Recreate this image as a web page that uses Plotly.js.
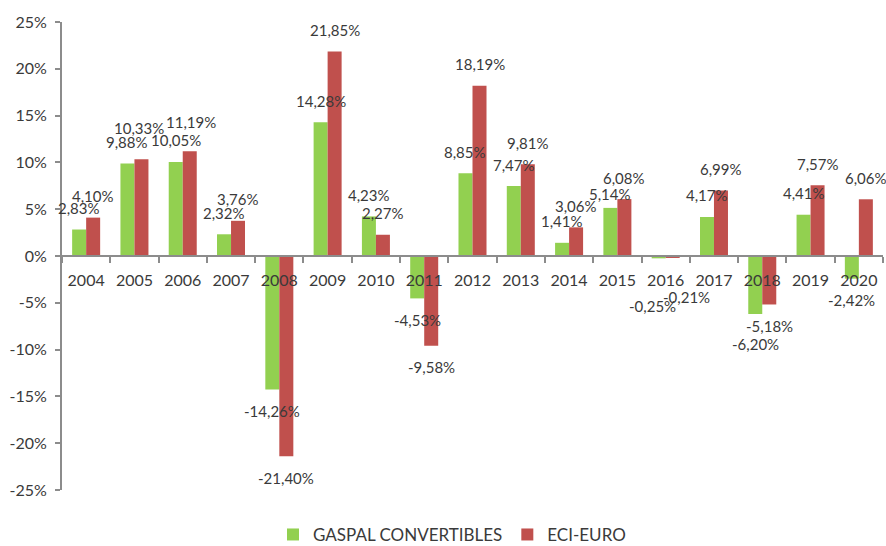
<!DOCTYPE html>
<html>
<head>
<meta charset="utf-8">
<script src="https://cdn.plot.ly/plotly-3.0.1.min.js"></script>
<style>
  html, body { margin: 0; padding: 0; background: #ffffff; }
  #chart { width: 886px; height: 546px; }
</style>
</head>
<body>
<div id="chart"></div>
<script>
// ---- Data (values in %) ----
const years = ['2004','2005','2006','2007','2008','2009','2010','2011','2012','2013','2014','2015','2016','2017','2018','2019','2020'];
const gaspal = [2.83, 9.88, 10.05, 2.32, -14.26, 14.28, 4.23, -4.53, 8.85, 7.47, 1.41, 5.14, -0.25, 4.17, -6.20, 4.41, -2.42];
const eciEuro = [4.10, 10.33, 11.19, 3.76, -21.40, 21.85, 2.27, -9.58, 18.19, 9.81, 3.06, 6.08, -0.21, 6.99, -5.18, 7.57, 6.06];
const seriesNames = ['GASPAL CONVERTIBLES', 'ECI-EURO'];
const yTicks = [-25, -20, -15, -10, -5, 0, 5, 10, 15, 20, 25];

// ---- Layout / style settings ----
const W = 886, H = 546;
const margin = {l: 62, r: 3, t: 22, b: 56, autoexpand: false};
const bargap = 0.42;
const green = '#92D050', red = '#C0504D';
const textColor = '#3a3a3a';
const axisColor = '#8c8c8c';
const fontFamily = 'Lato, "Open Sans", sans-serif';

// label nudges (pixels) reproducing the hand-placed labels of the original
const nudges = {
  'ECI-EURO|2005': {dx: -2, dy: 10},
  'ECI-EURO|2006': {dx: 1, dy: 8},
  'GASPAL CONVERTIBLES|2015': {dx: 0, dy: -8},
  'GASPAL CONVERTIBLES|2016': {dx: -6, dy: -26},
  'ECI-EURO|2016': {dx: 14, dy: -18},
  'GASPAL CONVERTIBLES|2018': {dx: 0, dy: -8}
};

const fmt = v => v.toFixed(2).replace('.', ',') + '%';

const traces = [
  {type: 'bar', name: seriesNames[0], x: years, y: gaspal, marker: {color: green}, hoverinfo: 'x+y'},
  {type: 'bar', name: seriesNames[1], x: years, y: eciEuro, marker: {color: red}, hoverinfo: 'x+y'}
];

// data labels as annotations, positioned from the values through the axes
// (on a category axis an annotation's x is the category's serial index)
const catW = (W - margin.l - margin.r) / years.length;
const barW = catW * (1 - bargap) / 2;
const annotations = [];
[[gaspal, seriesNames[0], -barW / 2], [eciEuro, seriesNames[1], barW / 2]].forEach(([vals, name, off]) => {
  vals.forEach((v, i) => {
    const n = nudges[name + '|' + years[i]] || {dx: 0, dy: 0};
    const base = v >= 0 ? 21.5 : -21.5;
    annotations.push({
      x: i, y: v, xref: 'x', yref: 'y',
      text: fmt(v), showarrow: false,
      xanchor: 'center', yanchor: 'middle',
      xshift: off + n.dx, yshift: base + n.dy,
      font: {family: fontFamily, size: 15, color: textColor}
    });
  });
});

const layout = {
  width: W, height: H,
  margin: margin,
  paper_bgcolor: '#ffffff',
  plot_bgcolor: '#ffffff',
  barmode: 'group',
  bargap: bargap,
  bargroupgap: 0,
  font: {family: fontFamily, size: 16, color: textColor},
  showlegend: true,
  legend: {
    orientation: 'h',
    x: 0.475, xanchor: 'center',
    y: -0.096, yanchor: 'middle',
    font: {family: fontFamily, size: 17, color: textColor},
    itemclick: false, itemdoubleclick: false
  },
  xaxis: {
    type: 'category',
    range: [-0.5, years.length - 0.5],
    anchor: 'free', position: 0.5,
    showline: true, linecolor: axisColor, linewidth: 2,
    ticks: 'outside', tickson: 'boundaries', ticklen: 6, tickcolor: axisColor, tickwidth: 2,
    ticklabelstandoff: 10,
    tickangle: 0,
    showgrid: false, zeroline: false,
    tickfont: {family: fontFamily, size: 16, color: textColor},
    fixedrange: true
  },
  yaxis: {
    range: [-25, 25],
    tickvals: yTicks,
    ticktext: yTicks.map(t => t + '%'),
    showline: true, linecolor: axisColor, linewidth: 2,
    ticks: 'outside', ticklen: 5, tickcolor: axisColor, tickwidth: 2,
    ticklabelstandoff: 5,
    showgrid: false, zeroline: false,
    tickfont: {family: fontFamily, size: 16, color: textColor},
    fixedrange: true
  },
  annotations: annotations
};

Plotly.newPlot('chart', traces, layout, {displayModeBar: false, staticPlot: true});
</script>
</body>
</html>
